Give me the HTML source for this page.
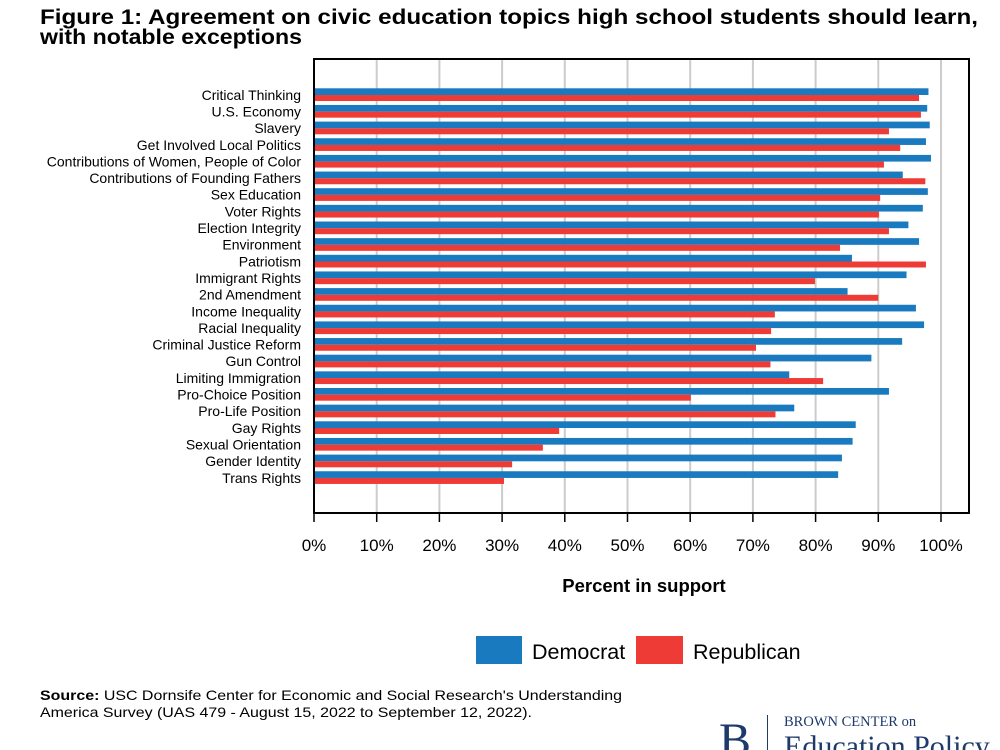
<!DOCTYPE html>
<html><head><meta charset="utf-8"><style>
body{margin:0;background:#fff;}
svg{display:block;font-family:"Liberation Sans",Arial,sans-serif;}
</style></head><body>
<svg id="chart" width="1000" height="750" viewBox="0 0 1000 750">
<text x="40" y="24" font-size="21" font-weight="bold" textLength="938" lengthAdjust="spacingAndGlyphs">Figure 1: Agreement on civic education topics high school students should learn,</text>
<text x="40" y="44" font-size="21" font-weight="bold" textLength="262" lengthAdjust="spacingAndGlyphs">with notable exceptions</text>
<g id="grid"></g>
<g id="bars"></g>
<g id="labels"></g>
<rect x="314" y="59" width="655" height="454" fill="none" stroke="#000" stroke-width="2"/>
<g id="ticks"></g>
<text x="644" y="592" font-size="18.5" font-weight="bold" text-anchor="middle">Percent in support</text>
<g>
<rect x="476" y="636" width="46" height="28" fill="#1a7abf"/>
<text x="532" y="659" font-size="21.5">Democrat</text>
<rect x="636" y="636" width="47" height="28" fill="#ef3b36"/>
<text x="693" y="659" font-size="21.5">Republican</text>
</g>
<text x="40" y="700" font-size="14" textLength="582" lengthAdjust="spacingAndGlyphs"><tspan font-weight="bold">Source:</tspan> USC Dornsife Center for Economic and Social Research's Understanding</text>
<text x="40" y="717" font-size="14" textLength="492" lengthAdjust="spacingAndGlyphs">America Survey (UAS 479 - August 15, 2022 to September 12, 2022).</text>
<g fill="#1d3a6b">
<text x="719" y="756" font-family="Liberation Serif,serif" font-size="48">B</text>
<rect x="767" y="715" width="1" height="35"/>
<text x="784" y="726" font-family="Liberation Serif,serif" font-size="14.5">BROWN CENTER on</text>
<text x="784" y="756" font-family="Liberation Serif,serif" font-size="30">Education Policy</text>
</g>
</svg>
<script>
const categories=["Critical Thinking","U.S. Economy","Slavery","Get Involved Local Politics","Contributions of Women, People of Color","Contributions of Founding Fathers","Sex Education","Voter Rights","Election Integrity","Environment","Patriotism","Immigrant Rights","2nd Amendment","Income Inequality","Racial Inequality","Criminal Justice Reform","Gun Control","Limiting Immigration","Pro-Choice Position","Pro-Life Position","Gay Rights","Sexual Orientation","Gender Identity","Trans Rights"];
const democrat=[98.0,97.8,98.2,97.6,98.4,93.9,97.9,97.1,94.8,96.5,85.8,94.5,85.1,96.0,97.3,93.8,88.9,75.8,91.7,76.6,86.4,85.9,84.2,83.6];
const republican=[96.5,96.8,91.7,93.5,90.9,97.5,90.3,90.1,91.7,83.9,97.6,79.9,90.0,73.5,72.9,70.5,72.8,81.2,60.1,73.6,39.1,36.5,31.6,30.3];
const tickValues=[0,10,20,30,40,50,60,70,80,90,100];
const tickLabels=["0%","10%","20%","30%","40%","50%","60%","70%","80%","90%","100%"];
const NS="http://www.w3.org/2000/svg";
const x=v=>314+v*6.27;
const y=i=>95+i*16.65;
function mk(tag,attrs,parent){const e=document.createElementNS(NS,tag);for(const k in attrs)e.setAttribute(k,attrs[k]);document.getElementById(parent).appendChild(e);return e;}
tickValues.forEach((v,i)=>{
  if(v>0){const g=mk("line",{x1:x(v),x2:x(v),y1:59,y2:513,stroke:"#cccccc","stroke-width":2},"grid");
  
  }
  const t=mk("line",{x1:x(v),x2:x(v),y1:513,y2:522,stroke:"#000","stroke-width":1.5},"ticks");
  
  
  const l=mk("text",{x:x(v),y:551,"font-size":17,"text-anchor":"middle"},"ticks");
  l.textContent=tickLabels[i];
  
  
});
categories.forEach((c,i)=>{
  const b=mk("rect",{x:314,y:y(i)-6.7,width:x(democrat[i])-314,height:6.7,fill:"#1a7abf"},"bars");
  
  
  const r=mk("rect",{x:314,y:y(i),width:x(republican[i])-314,height:6,fill:"#ef3b36"},"bars");
  
  
  const t=mk("text",{x:301,y:y(i)+4.8,"font-size":14,"text-anchor":"end"},"labels");
  t.textContent=c;
  
  
});
</script>
</body></html>
